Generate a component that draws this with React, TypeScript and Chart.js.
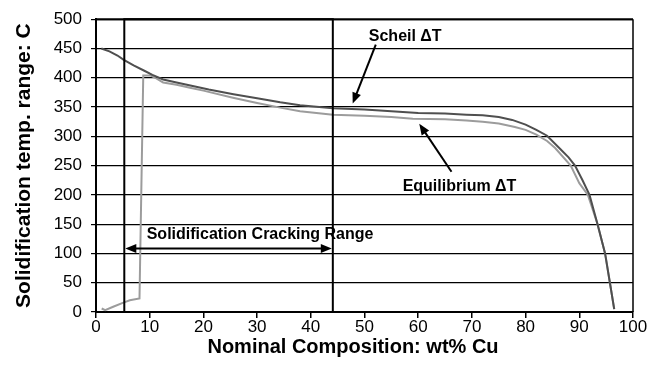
import { useEffect, useRef } from "react";
import { Chart, registerables } from "chart.js";

Chart.register(...registerables);

const FONT = "'Liberation Sans', Arial, Helvetica, sans-serif";

// Scheil solidification range vs. composition
const scheilX = [1.0, 2.5, 4, 5.1, 7, 9, 10.5, 12.5, 15, 18, 21, 25.6, 30, 34.3, 38, 44.1, 50, 55, 60, 65, 69, 72, 75, 77.5, 80, 82, 84, 86.5, 88, 89.2, 90.6, 91.9, 93.4, 94.8, 95.7, 96.5];
const scheilY = [450, 445, 438, 431, 421, 412, 405, 397, 392, 386, 380, 372, 365, 358, 353, 348, 346, 343, 340, 339, 337, 336, 333, 328, 320, 311, 301, 278, 264, 250, 225, 200, 150, 100, 50, 5];

// Equilibrium solidification range vs. composition
const eqX = [1.06, 1.7, 3.2, 5.1, 6.3, 8.1, 8.8, 10.1, 11, 12.5, 15, 17.5, 20, 25.5, 30, 34.3, 38, 44.1, 50, 55, 59, 65, 69, 72, 75, 78, 80, 82, 84, 85.5, 88.4, 90.0, 91.6, 93.4, 94.8, 95.7, 96.5];
const eqY = [6, 3, 9, 16, 20, 23, 404, 404, 400, 392, 388, 383, 378, 366, 357, 349, 343, 337, 335, 333, 330, 329, 327, 325, 322, 316, 311, 303, 292, 280, 250, 220, 200, 150, 100, 50, 5];

// Axis ranges and titles
const xMin = 0;
const xMax = 100;
const xStep = 10;
const yMin = 0;
const yMax = 500;
const yStep = 50;
const xTitle = "Nominal Composition: wt% Cu";
const yTitle = "Solidification temp. range: C";

// Cracking range bounds (wt% Cu) and its label
const crackStart = 5.27;
const crackEnd = 44.1;
const crackArrowY = 108.6;
const crackLabel = "Solidification Cracking Range";
const crackLabelPos = [9.44, 133];

// Curve labels with their arrows: [label x, label y], [tail x, tail y], [tip x, tip y]
const scheilLabel = "Scheil \u0394T";
const scheilLabelPos = [50.8, 469.6];
const scheilArrow = [[52.1, 456.6], [47.8, 356]];

const eqLabel = "Equilibrium \u0394T";
const eqLabelPos = [57.1, 214.5];
const eqArrow = [[66.2, 239.5], [60.2, 321.4]];

const toPoints = (xs: number[], ys: number[]) => xs.map((x, i) => ({ x, y: ys[i] }));

function drawArrowHead(ctx: CanvasRenderingContext2D, x0: number, y0: number, x1: number, y1: number) {
  const ang = Math.atan2(y1 - y0, x1 - x0);
  const len = 11;
  const half = 4.5;
  ctx.beginPath();
  ctx.moveTo(x1, y1);
  ctx.lineTo(x1 - len * Math.cos(ang) + half * Math.sin(ang), y1 - len * Math.sin(ang) - half * Math.cos(ang));
  ctx.lineTo(x1 - len * Math.cos(ang) - half * Math.sin(ang), y1 - len * Math.sin(ang) + half * Math.cos(ang));
  ctx.closePath();
  ctx.fill();
}

function drawArrow(ctx: CanvasRenderingContext2D, x0: number, y0: number, x1: number, y1: number, both = false) {
  const ang = Math.atan2(y1 - y0, x1 - x0);
  const back = 8;
  ctx.beginPath();
  ctx.moveTo(both ? x0 + back * Math.cos(ang) : x0, both ? y0 + back * Math.sin(ang) : y0);
  ctx.lineTo(x1 - back * Math.cos(ang), y1 - back * Math.sin(ang));
  ctx.stroke();
  drawArrowHead(ctx, x0, y0, x1, y1);
  if (both) drawArrowHead(ctx, x1, y1, x0, y0);
}

const annotationPlugin = {
  id: "solidificationAnnotations",
  afterDraw(chart: any) {
    const { ctx, chartArea, scales } = chart;
    const xs = scales.x;
    const ys = scales.y;
    const px = (v: number) => xs.getPixelForValue(v);
    const py = (v: number) => ys.getPixelForValue(v);
    ctx.save();
    ctx.strokeStyle = "#000";
    ctx.fillStyle = "#000";

    // top and right frame
    ctx.lineWidth = 2;
    ctx.beginPath();
    ctx.moveTo(chartArea.left, chartArea.top);
    ctx.lineTo(chartArea.right, chartArea.top);
    ctx.stroke();
    ctx.lineWidth = 1.5;
    ctx.beginPath();
    ctx.moveTo(chartArea.right, chartArea.top);
    ctx.lineTo(chartArea.right, chartArea.bottom);
    ctx.stroke();

    // cracking range box
    ctx.lineWidth = 2;
    const bx0 = px(crackStart);
    const bx1 = px(crackEnd);
    ctx.strokeRect(bx0, py(yMax), bx1 - bx0, py(yMin) - py(yMax));

    // double arrow across the range
    drawArrow(ctx, bx0 + 1, py(crackArrowY), bx1 - 1, py(crackArrowY), true);

    // arrows to the curves
    drawArrow(ctx, px(scheilArrow[0][0]), py(scheilArrow[0][1]), px(scheilArrow[1][0]), py(scheilArrow[1][1]));
    drawArrow(ctx, px(eqArrow[0][0]), py(eqArrow[0][1]), px(eqArrow[1][0]), py(eqArrow[1][1]));

    // labels
    ctx.font = `bold 16px ${FONT}`;
    ctx.textAlign = "left";
    ctx.textBaseline = "middle";
    ctx.fillText(crackLabel, px(crackLabelPos[0]), py(crackLabelPos[1]));
    ctx.fillText(scheilLabel, px(scheilLabelPos[0]), py(scheilLabelPos[1]));
    ctx.fillText(eqLabel, px(eqLabelPos[0]), py(eqLabelPos[1]));

    // x-axis title, set slightly left of the plot centre
    ctx.font = `bold 20px ${FONT}`;
    ctx.textAlign = "center";
    ctx.fillText(xTitle, 353, 347);
    ctx.restore();
  },
};

export default function App() {
  const canvasRef = useRef<HTMLCanvasElement | null>(null);

  useEffect(() => {
    document.body.style.margin = "0";
    const canvas = canvasRef.current;
    if (!canvas) return;
    const chart = new Chart(canvas, {
      type: "line",
      data: {
        datasets: [
          {
            label: "Scheil",
            data: toPoints(scheilX, scheilY),
            borderColor: "#4f4f4f",
            borderWidth: 2,
            pointRadius: 0,
            tension: 0,
          },
          {
            label: "Equilibrium",
            data: toPoints(eqX, eqY),
            borderColor: "#9c9c9c",
            borderWidth: 2,
            pointRadius: 0,
            tension: 0,
          },
        ],
      },
      options: {
        animation: false,
        responsive: false,
        events: [],
        layout: { padding: { left: 0, top: 16, right: 28, bottom: 0 } },
        plugins: { legend: { display: false }, tooltip: { enabled: false } },
        scales: {
          x: {
            type: "linear",
            min: xMin,
            max: xMax,
            afterFit: (s: any) => {
              s.height = 61;
            },
            ticks: {
              stepSize: xStep,
              color: "#000",
              padding: -1,
              font: { family: FONT, size: 17 },
            },
            grid: { drawOnChartArea: false, drawTicks: true, tickLength: 6, color: "#000", lineWidth: 1.5 },
            border: { display: true, color: "#000", width: 2 },
          },
          y: {
            min: yMin,
            max: yMax,
            afterFit: (s: any) => {
              s.width = 96;
            },
            ticks: {
              stepSize: yStep,
              color: "#000",
              padding: 9,
              font: { family: FONT, size: 17 },
            },
            grid: { color: "#000", lineWidth: 1.2, tickLength: 5 },
            border: { display: true, color: "#000", width: 2 },
            title: {
              display: true,
              text: yTitle,
              color: "#000",
              font: { family: FONT, size: 21, weight: "bold" },
              padding: { top: 12, bottom: 0 },
            },
          },
        },
      },
      plugins: [annotationPlugin],
    });
    return () => chart.destroy();
  }, []);

  return (
    <div style={{ width: 661, height: 373 }}>
      <canvas ref={canvasRef} width={661} height={373} style={{ display: "block" }} />
    </div>
  );
}
